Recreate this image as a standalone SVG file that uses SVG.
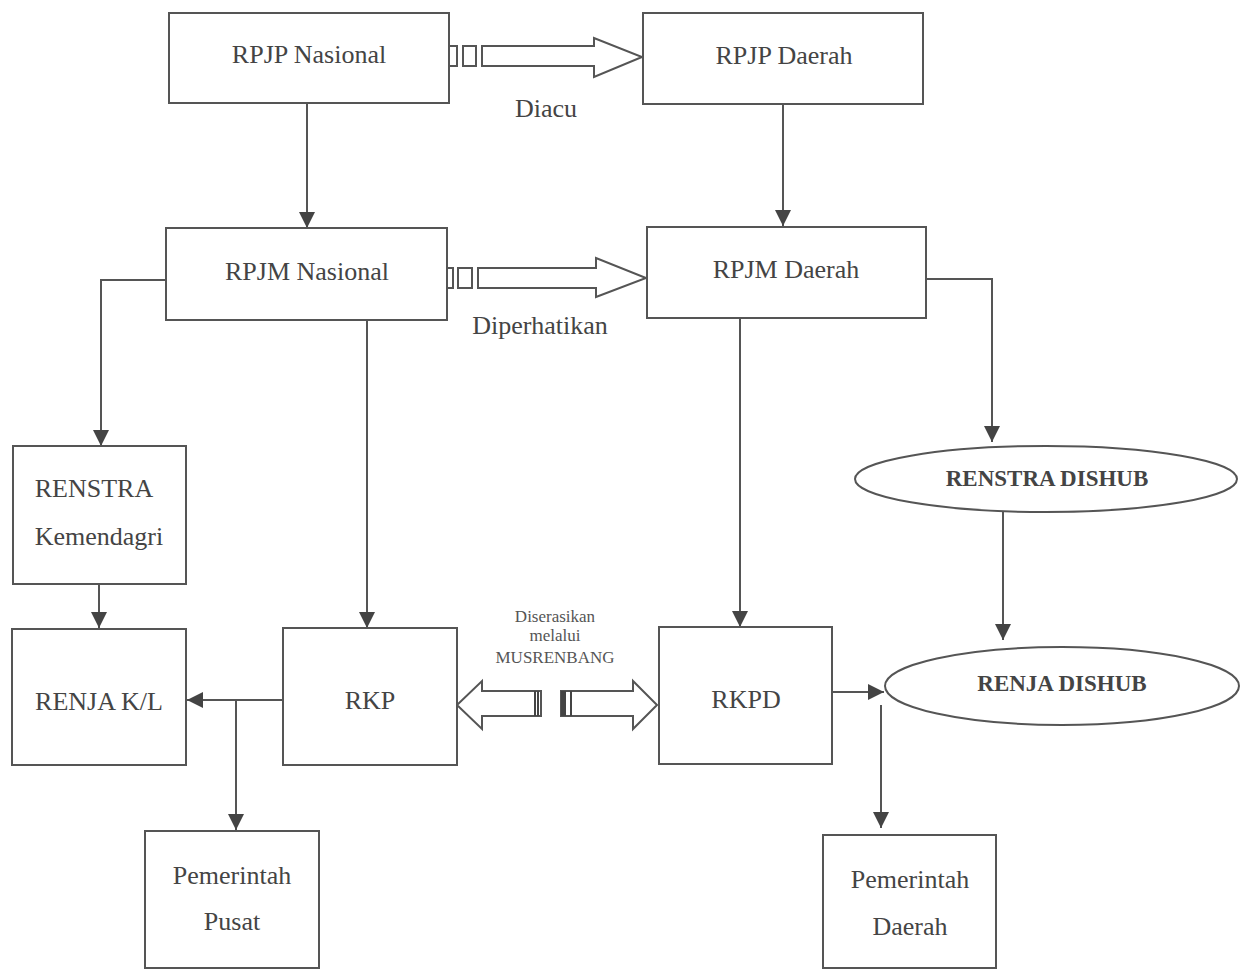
<svg xmlns="http://www.w3.org/2000/svg" width="1248" height="970" viewBox="0 0 1248 970">
<defs>
<style>
.box{fill:#fff;stroke:#555;stroke-width:2}
.t{font-family:"Liberation Serif","Times New Roman",serif;font-size:26px;fill:#444;text-anchor:middle}
.tb{font-family:"Liberation Serif","Times New Roman",serif;font-size:23px;font-weight:bold;fill:#444;text-anchor:middle}
.ts{font-family:"Liberation Serif","Times New Roman",serif;font-size:17px;fill:#555;text-anchor:middle}
.c{fill:none;stroke:#555;stroke-width:2}
.blk{fill:#fff;stroke:#555;stroke-width:2}
</style>
<marker id="ah" viewBox="0 0 10 10" refX="10" refY="5" markerWidth="16" markerHeight="16" markerUnits="userSpaceOnUse" orient="auto">
<path d="M0,0 L10,5 L0,10 Z" fill="#444"/>
</marker>
</defs>
<rect width="1248" height="970" fill="#fff"/>

<g id="connectors">
<path class="c" d="M307,103 V228" marker-end="url(#ah)"/>
<path class="c" d="M783,104 V226" marker-end="url(#ah)"/>
<path class="c" d="M166,280 H101 V446" marker-end="url(#ah)"/>
<path class="c" d="M367,320 V628" marker-end="url(#ah)"/>
<path class="c" d="M740,318 V627" marker-end="url(#ah)"/>
<path class="c" d="M926,279 H992 V442" marker-end="url(#ah)"/>
<path class="c" d="M1003,512 V640" marker-end="url(#ah)"/>
<path class="c" d="M99,585 V628" marker-end="url(#ah)"/>
<path class="c" d="M283,700 H187" marker-end="url(#ah)"/>
<path class="c" d="M236,700 V830" marker-end="url(#ah)"/>
<path class="c" d="M832,692 H884" marker-end="url(#ah)"/>
<path class="c" d="M881,705 V828" marker-end="url(#ah)"/>
<!-- block arrows -->
<rect class="blk" x="449" y="46" width="8" height="20"/>
<rect class="blk" x="463" y="46" width="13" height="20"/>
<polygon class="blk" points="482,46 594,46 594,38 642,57 594,77 594,66 482,66"/>
<rect class="blk" x="446" y="268" width="7" height="20"/>
<rect class="blk" x="458" y="268" width="14" height="20"/>
<polygon class="blk" points="478,268 596,268 596,258 646,278 596,297 596,288 478,288"/>
<polygon class="blk" points="541,691 482,691 482,681 457,705 482,729 482,716 541,716"/>
<path d="M535,691 V716 M538,691 V716" stroke="#444" stroke-width="2"/>
<polygon class="blk" points="561,691 633,691 633,681 657,705 633,729 633,716 561,716"/>
<rect x="561" y="691" width="5" height="25" fill="#444"/>
<path d="M571,691 V716" stroke="#444" stroke-width="2"/>
<text class="t" x="546" y="117">Diacu</text>
<text class="t" x="540" y="334">Diperhatikan</text>
<text class="ts" x="555" y="622">Diserasikan</text>
<text class="ts" x="555" y="641">melalui</text>
<text class="ts" x="555" y="663">MUSRENBANG</text>
</g>

<g id="rpjp-nasional"><rect class="box" x="169" y="13" width="280" height="90"/><text class="t" x="309" y="63">RPJP Nasional</text></g>
<g id="rpjp-daerah"><rect class="box" x="643" y="13" width="280" height="91"/><text class="t" x="784" y="64">RPJP Daerah</text></g>
<g id="rpjm-nasional"><rect class="box" x="166" y="228" width="281" height="92"/><text class="t" x="307" y="280">RPJM Nasional</text></g>
<g id="rpjm-daerah"><rect class="box" x="647" y="227" width="279" height="91"/><text class="t" x="786" y="278">RPJM Daerah</text></g>
<g id="renstra-kemendagri"><rect class="box" x="13" y="446" width="173" height="138"/><text class="t" x="94" y="497">RENSTRA</text><text class="t" x="99" y="545">Kemendagri</text></g>
<g id="renja-kl"><rect class="box" x="12" y="629" width="174" height="136"/><text class="t" x="99" y="710">RENJA K/L</text></g>
<g id="rkp"><rect class="box" x="283" y="628" width="174" height="137"/><text class="t" x="370" y="709">RKP</text></g>
<g id="rkpd"><rect class="box" x="659" y="627" width="173" height="137"/><text class="t" x="746" y="708">RKPD</text></g>
<g id="pemerintah-pusat"><rect class="box" x="145" y="831" width="174" height="137"/><text class="t" x="232" y="884">Pemerintah</text><text class="t" x="232" y="930">Pusat</text></g>
<g id="pemerintah-daerah"><rect class="box" x="823" y="835" width="173" height="133"/><text class="t" x="910" y="888">Pemerintah</text><text class="t" x="910" y="935">Daerah</text></g>
<g id="renstra-dishub"><ellipse class="box" cx="1046" cy="479" rx="191" ry="33"/><text class="tb" x="1047" y="486">RENSTRA DISHUB</text></g>
<g id="renja-dishub"><ellipse class="box" cx="1062" cy="686" rx="177" ry="39"/><text class="tb" x="1062" y="691">RENJA DISHUB</text></g>
</svg>
